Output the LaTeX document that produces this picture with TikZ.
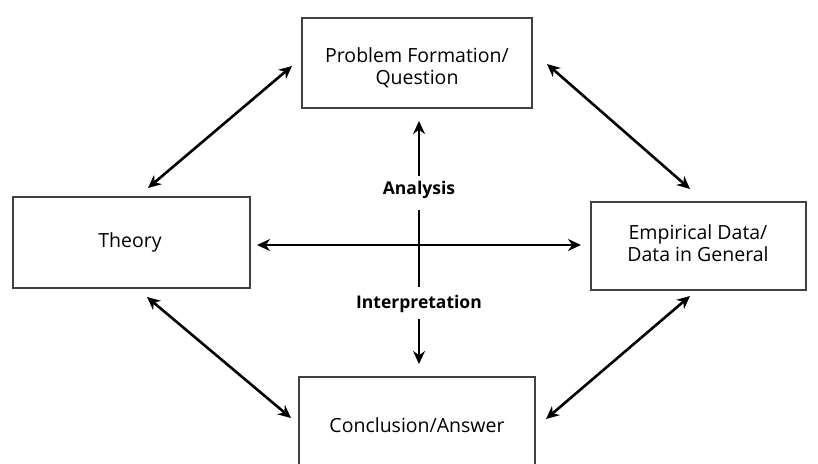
\documentclass[tikz,border=0pt]{standalone}
\usepackage{fontspec}
\setmainfont{Open Sans}
\usetikzlibrary{arrows.meta}
\begin{document}
\begin{tikzpicture}[x=1pt,y=-1pt,
  box/.style={draw=black!75,line width=2.5pt,fill=white,inner sep=0pt},
  txt/.style={align=center,font=\fontsize{19.5}{22}\selectfont,inner sep=0pt},
  lbl/.style={font=\bfseries\fontsize{17.5}{20}\selectfont,inner sep=1pt},
  conn/.style={line width=2.6pt,-{Stealth[length=13pt,width=12pt]}},
  biconn/.style={line width=2.6pt,{Stealth[length=13pt,width=12pt]}-{Stealth[length=13pt,width=12pt]}},
  plain/.style={line width=2.6pt}]
\useasboundingbox (0,0) rectangle (818,463);
\clip (0,0) rectangle (818,463);
\node[box,minimum width=230pt,minimum height=90pt] (prob) at (417,63) {};
\node[txt] (probtext) at (417,68) {Problem Formation/\\Question};
\node[box,minimum width=237pt,minimum height=91pt] (theory) at (131.5,242.5) {};
\node[txt] (theorytext) at (130,242) {Theory};
\node[box,minimum width=215pt,minimum height=88pt] (emp) at (698.5,246) {};
\node[txt] (emptext) at (698,243) {Empirical Data/\\Data in General};
\node[box,minimum width=236pt,minimum height=100pt] (conc) at (417,427) {};
\node[txt] (conctext) at (417,425) {Conclusion/Answer};
\node[lbl] (ana) at (419,190) {Analysis};
\node[lbl] (int) at (419,304) {Interpretation};
% central cross
\coordinate (vtop) at (419,210);
\coordinate (vbot) at (419,287);
\coordinate (hl) at (257,245);
\coordinate (hr) at (581,245);
\coordinate (upS) at (419,176);
\coordinate (upE) at (419,121);
\coordinate (dnS) at (419,319);
\coordinate (dnE) at (419,364);
\draw[plain] (vtop) -- (vbot);
\draw[biconn] (hl) -- (hr);
\draw[conn] (upS) -- (upE);
\draw[conn] (dnS) -- (dnE);
% diagonals
\coordinate (tlA) at (148,188);
\coordinate (tlB) at (292,66);
\coordinate (trA) at (547,64);
\coordinate (trB) at (690,189);
\coordinate (blA) at (147,297);
\coordinate (blB) at (291,418);
\coordinate (brA) at (690,296);
\coordinate (brB) at (546,419);
\draw[biconn] (tlA) -- (tlB);
\draw[biconn] (trA) -- (trB);
\draw[biconn] (blA) -- (blB);
\draw[biconn] (brA) -- (brB);
\end{tikzpicture}
\end{document}
